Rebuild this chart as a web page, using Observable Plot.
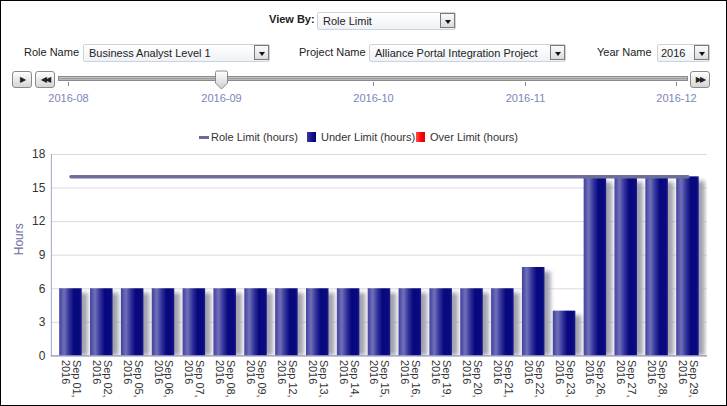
<!DOCTYPE html>
<html>
<head>
<meta charset="utf-8">
<script src="https://cdn.jsdelivr.net/npm/d3@7"></script>
<script src="https://cdn.jsdelivr.net/npm/@observablehq/plot@0.6"></script>
<style>
  html, body { margin: 0; padding: 0; background: #fff; }
  #page { position: relative; width: 725px; height: 404px; border: 1px solid #000; overflow: hidden;
          font-family: "Liberation Sans", Arial, sans-serif; font-size: 11px; color: #222; }
  .abs { position: absolute; }
  .lbl { position: absolute; font-size: 11px; color: #222; line-height: 14px; white-space: nowrap; }
  .dd { position: absolute; height: 16px; border: 1px solid #cbd3de; border-radius: 2px;
        background: linear-gradient(#ffffff, #eef2f6); box-sizing: content-box; }
  .dd span { position: absolute; left: 5px; top: 1px; font-size: 11px; line-height: 14px; color: #222; white-space: nowrap; }
  .dd i { position: absolute; right: 0px; top: 0px; width: 15px; height: 15px; border: 1px solid #7a7a7a;
          background: linear-gradient(#fbfbfb, #dcdcdc); box-sizing: border-box; margin: 0; }
  .dd i:after { content: ""; position: absolute; left: 4px; top: 6px; border-left: 3px solid transparent;
          border-right: 3px solid transparent; border-top: 4px solid #111; }
  .btn { position: absolute; width: 20px; height: 17px; border: 1px solid #8b8b8b; border-radius: 3px;
         background: linear-gradient(#ffffff, #d5d5d5); box-sizing: border-box; font-size: 8px; color: #222;
         text-align: center; line-height: 15px; font-family: "DejaVu Sans", sans-serif; letter-spacing: -2px; }
  .track { position: absolute; left: 57px; top: 75px; width: 630px; height: 5px; border: 1px solid #8a8a8a;
           background: linear-gradient(#d8d8d8, #9c9c9c, #c8c8c8); box-sizing: border-box; }
  .mtick { position: absolute; top: 81px; width: 1px; height: 4px; background: #7b85bb; }
  .month { position: absolute; top: 91px; font-size: 11px; color: #7b85bb; transform: translateX(-50%); white-space: nowrap; }
  #legend { position: absolute; left: 0; top: 129px; width: 727px; height: 14px; }
  #legend div { position: absolute; }
  #legend .t { font-size: 11px; color: #333; line-height: 14px; top: 0; white-space: nowrap; }
  #chart { position: absolute; left: 0; top: 143px; }
</style>
</head>
<body>
<svg width="0" height="0" style="position:absolute">
  <defs>
    <linearGradient id="barGrad" x1="0" x2="1" y1="0" y2="0">
      <stop offset="0" stop-color="#4040a2"/>
      <stop offset="0.22" stop-color="#7070b8"/>
      <stop offset="0.45" stop-color="#30309a"/>
      <stop offset="0.65" stop-color="#08087e"/>
      <stop offset="0.9" stop-color="#0a0a80"/>
      <stop offset="1" stop-color="#1c1c8c"/>
    </linearGradient>
    <filter id="blur" x="-50%" y="-50%" width="200%" height="200%">
      <feGaussianBlur stdDeviation="2.2"/>
    </filter>
  </defs>
</svg>
<div id="page">
  <div class="lbl" style="left:268px;top:11px;font-weight:bold;">View By:</div>
  <div class="dd" style="left:316px;top:11px;width:137px;"><span>Role Limit</span><i></i></div>

  <div class="lbl" style="left:23px;top:44px;">Role Name</div>
  <div class="dd" style="left:82px;top:43px;width:185px;"><span>Business Analyst Level 1</span><i></i></div>
  <div class="lbl" style="left:298px;top:44px;">Project Name</div>
  <div class="dd" style="left:368px;top:43px;width:195px;"><span>Alliance Portal Integration Project</span><i></i></div>
  <div class="lbl" style="left:596px;top:44px;">Year Name</div>
  <div class="dd" style="left:656px;top:43px;width:51px;"><span style="left:3px">2016</span><i></i></div>

  <div class="btn" style="left:11px;top:70px;">&#9654;</div>
  <div class="btn" style="left:34px;top:70px;">&#9664;&#9664;</div>
  <div class="track"></div>
  <div class="btn" style="left:689px;top:70px;">&#9654;&#9654;</div>
  <div id="months"></div>
  <svg class="abs" style="left:211px;top:69px" width="20" height="22">
    <defs><linearGradient id="thumbG" x1="0" x2="0" y1="0" y2="1"><stop offset="0" stop-color="#ffffff"/><stop offset="1" stop-color="#d0d0d0"/></linearGradient></defs>
    <path d="M3.5,2.5 Q3.5,1 5,1 L14,1 Q15.5,1 15.5,2.5 L15.5,13 L9.5,19 L3.5,13 Z" fill="url(#thumbG)" stroke="#8a8a8a"/>
  </svg>

  <div id="legend">
    <div style="left:198px;top:6px;width:10px;height:3px;background:#6b6b9b;"></div>
    <div class="t" style="left:210px;">Role Limit (hours)</div>
    <div style="left:306px;top:2px;width:9px;height:10px;background:linear-gradient(90deg,#3a3aa0,#101085 60%,#000080);"></div>
    <div class="t" style="left:320px;">Under Limit (hours)</div>
    <div style="left:415px;top:2px;width:9px;height:10px;background:linear-gradient(90deg,#ff5050,#ff0000 60%,#e00000);"></div>
    <div class="t" style="left:429px;">Over Limit (hours)</div>
  </div>

  <div id="chart"></div>
</div>
<script>
// ---- data ----
const dates = ["Sep 01","Sep 02","Sep 05","Sep 06","Sep 07","Sep 08","Sep 09","Sep 12","Sep 13","Sep 14",
               "Sep 15","Sep 16","Sep 19","Sep 20","Sep 21","Sep 22","Sep 23","Sep 26","Sep 27","Sep 28","Sep 29"];
const year = "2016";
const underLimit = [6,6,6,6,6,6,6,6,6,6,6,6,6,6,6,7.9,4,15.9,15.9,15.9,16];
const overLimit  = [0,0,0,0,0,0,0,0,0,0,0,0,0,0,0,0,0,0,0,0,0];
const roleLimit  = [16,16,16,16,16,16,16,16,16,16,16,16,16,16,16,16,16,16,16,16,16];
const yTicks = [0,3,6,9,12,15,18];
const months = ["2016-08","2016-09","2016-10","2016-11","2016-12"];
const monthPos = [67,220,372,524,675];

// slider month labels
const mEl = document.getElementById("months");
months.forEach((m, i) => {
  const t = document.createElement("div"); t.className = "mtick"; t.style.left = monthPos[i] + "px"; mEl.appendChild(t);
  const l = document.createElement("div"); l.className = "month"; l.style.left = (monthPos[i] + 0.5) + "px"; l.textContent = m; mEl.appendChild(l);
});

const data = dates.map((d, i) => ({date: d, under: underLimit[i], over: overLimit[i], limit: roleLimit[i]}));

const chart = Plot.plot({
  width: 727,
  height: 260,
  marginLeft: 50,
  marginRight: 19,
  marginTop: 10,
  marginBottom: 48,
  style: {fontFamily: "'Liberation Sans', Arial, sans-serif", background: "transparent", overflow: "visible"},
  x: {type: "band", domain: dates, padding: 0.27, round: false, label: null},
  y: {domain: [0, 18], label: null},
  marks: [
    Plot.gridY(yTicks, {stroke: "#d9d9e2", strokeOpacity: 1}),
    Plot.barY(data, {x: "date", y1: 0, y2: d => d.under - 0.4, dx: 6, fill: "#a2a2ae", clip: "frame"}),
    Plot.barY(data, {x: "date", y: "under", fill: "url(#barGrad)"}),
    Plot.barY(data, {x: "date", y: "over", fill: "#ff0000"}),
    Plot.lineY(data, {x: "date", y: "limit", dy: 5, stroke: "#b4b4be", strokeWidth: 4}),
    Plot.lineY(data, {x: "date", y: "limit", stroke: "#6d6d9c", strokeWidth: 3.5}),
    Plot.ruleY([0], {stroke: "#8585b5", strokeWidth: 1}),
    Plot.frame({anchor: "left", stroke: "#a5a5c8"}),
    Plot.axisY(yTicks, {tickSize: 0, tickPadding: 6, fontSize: 12, fill: "#333", label: null}),
    Plot.axisX({tickSize: 0, tickPadding: 4, tickRotate: 90, fontSize: 11, fill: "#333", label: null,
                tickFormat: d => d + ",\n" + year}),
    Plot.text(["Hours"], {frameAnchor: "left", dx: -32, rotate: -90, fontSize: 12, fill: "#6b6ba0"})
  ]
});
document.getElementById("chart").appendChild(chart);

// soft shadows
const bars = chart.querySelectorAll('g[aria-label="bar"]');
if (bars[0]) bars[0].setAttribute("filter", "url(#blur)");
const lines = chart.querySelectorAll('g[aria-label="line"]');
if (lines[0]) lines[0].setAttribute("filter", "url(#blur)");
</script>
</body>
</html>
